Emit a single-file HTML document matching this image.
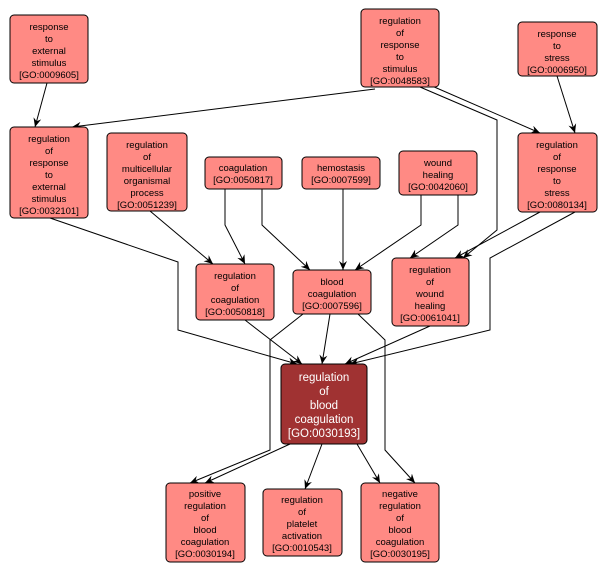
<!DOCTYPE html>
<html><head><style>
body{margin:0;background:#fff}
svg text{font-family:"Liberation Sans",sans-serif;font-size:9.5px;fill:#000;text-anchor:middle}
.n{fill:#ff8a84;stroke:#000;stroke-width:1}
</style></head><body>
<svg width="608" height="573" viewBox="0 0 608 573">
<defs><marker id="a" markerWidth="10" markerHeight="10" refX="9" refY="5" orient="auto" markerUnits="userSpaceOnUse"><path d="M0,1 L9,5 L0,9 L3,5 z" fill="#000"/></marker></defs>
<g fill="none" stroke="#000" stroke-width="1" marker-end="url(#a)">
<path d="M47,83 L35,127"/>
<path d="M375,89 L72,127"/>
<path d="M420,87 L497,120 L497,230 L463,258"/>
<path d="M432,86 L540,133"/>
<path d="M557,76 L575,133"/>
<path d="M50,218 L178,262 L178,330 L297,364"/>
<path d="M150,211 L213,264"/>
<path d="M225,189 L225,225 L245,264"/>
<path d="M262,189 L262,225 L310,270"/>
<path d="M343,189 L343,270"/>
<path d="M421,195 L421,225 L355,270"/>
<path d="M458,195 L458,225 L410,258"/>
<path d="M540,212 L455,258"/>
<path d="M575,212 L490,258 L490,330 L350,364"/>
<path d="M245,320 L302,364"/>
<path d="M330,314 L322,364"/>
<path d="M303,314 L270,340 L270,450 L190,483"/>
<path d="M358,314 L385,340 L385,450 L415,483"/>
<path d="M430,326 L345,364"/>
<path d="M290,444 L205,483"/>
<path d="M322,444 L305,489"/>
<path d="M357,444 L380,483"/>
</g>
<rect class="n" x="10" y="15" width="78" height="68" rx="4"/>
<text x="49" y="30">response<tspan x="49" dy="12">to</tspan><tspan x="49" dy="12">external</tspan><tspan x="49" dy="12">stimulus</tspan><tspan x="49" dy="12">[GO:0009605]</tspan></text>
<rect class="n" x="361" y="9" width="78" height="78" rx="4"/>
<text x="400" y="24">regulation<tspan x="400" dy="12">of</tspan><tspan x="400" dy="12">response</tspan><tspan x="400" dy="12">to</tspan><tspan x="400" dy="12">stimulus</tspan><tspan x="400" dy="12">[GO:0048583]</tspan></text>
<rect class="n" x="518" y="22" width="79" height="54" rx="4"/>
<text x="557" y="37">response<tspan x="557" dy="12">to</tspan><tspan x="557" dy="12">stress</tspan><tspan x="557" dy="12">[GO:0006950]</tspan></text>
<rect class="n" x="10" y="127" width="78" height="91" rx="4"/>
<text x="49" y="142">regulation<tspan x="49" dy="12">of</tspan><tspan x="49" dy="12">response</tspan><tspan x="49" dy="12">to</tspan><tspan x="49" dy="12">external</tspan><tspan x="49" dy="12">stimulus</tspan><tspan x="49" dy="12">[GO:0032101]</tspan></text>
<rect class="n" x="107" y="133" width="80" height="78" rx="4"/>
<text x="147" y="148">regulation<tspan x="147" dy="12">of</tspan><tspan x="147" dy="12">multicellular</tspan><tspan x="147" dy="12">organismal</tspan><tspan x="147" dy="12">process</tspan><tspan x="147" dy="12">[GO:0051239]</tspan></text>
<rect class="n" x="205" y="157" width="77" height="32" rx="4"/>
<text x="243" y="171">coagulation<tspan x="243" dy="12">[GO:0050817]</tspan></text>
<rect class="n" x="302" y="157" width="78" height="32" rx="4"/>
<text x="341" y="171">hemostasis<tspan x="341" dy="12">[GO:0007599]</tspan></text>
<rect class="n" x="399" y="151" width="78" height="44" rx="4"/>
<text x="438" y="166">wound<tspan x="438" dy="12">healing</tspan><tspan x="438" dy="12">[GO:0042060]</tspan></text>
<rect class="n" x="518" y="133" width="79" height="79" rx="4"/>
<text x="557" y="148">regulation<tspan x="557" dy="12">of</tspan><tspan x="557" dy="12">response</tspan><tspan x="557" dy="12">to</tspan><tspan x="557" dy="12">stress</tspan><tspan x="557" dy="12">[GO:0080134]</tspan></text>
<rect class="n" x="196" y="264" width="78" height="56" rx="4"/>
<text x="235" y="279">regulation<tspan x="235" dy="12">of</tspan><tspan x="235" dy="12">coagulation</tspan><tspan x="235" dy="12">[GO:0050818]</tspan></text>
<rect class="n" x="293" y="270" width="78" height="44" rx="4"/>
<text x="332" y="285">blood<tspan x="332" dy="12">coagulation</tspan><tspan x="332" dy="12">[GO:0007596]</tspan></text>
<rect class="n" x="392" y="258" width="77" height="68" rx="4"/>
<text x="430" y="273">regulation<tspan x="430" dy="12">of</tspan><tspan x="430" dy="12">wound</tspan><tspan x="430" dy="12">healing</tspan><tspan x="430" dy="12">[GO:0061041]</tspan></text>
<rect x="281" y="364" width="86" height="80" rx="4" fill="#a03232" stroke="#000"/>
<text x="324" y="381" style="font-size:11.5px;fill:#fff">regulation<tspan x="324" dy="14">of</tspan><tspan x="324" dy="14">blood</tspan><tspan x="324" dy="14">coagulation</tspan><tspan x="324" dy="14">[GO:0030193]</tspan></text>
<rect class="n" x="166" y="483" width="79" height="79" rx="4"/>
<text x="205" y="497">positive<tspan x="205" dy="12">regulation</tspan><tspan x="205" dy="12">of</tspan><tspan x="205" dy="12">blood</tspan><tspan x="205" dy="12">coagulation</tspan><tspan x="205" dy="12">[GO:0030194]</tspan></text>
<rect class="n" x="263" y="489" width="79" height="67" rx="4"/>
<text x="302" y="503">regulation<tspan x="302" dy="12">of</tspan><tspan x="302" dy="12">platelet</tspan><tspan x="302" dy="12">activation</tspan><tspan x="302" dy="12">[GO:0010543]</tspan></text>
<rect class="n" x="361" y="483" width="78" height="79" rx="4"/>
<text x="400" y="497">negative<tspan x="400" dy="12">regulation</tspan><tspan x="400" dy="12">of</tspan><tspan x="400" dy="12">blood</tspan><tspan x="400" dy="12">coagulation</tspan><tspan x="400" dy="12">[GO:0030195]</tspan></text>
</svg>
</body></html>
